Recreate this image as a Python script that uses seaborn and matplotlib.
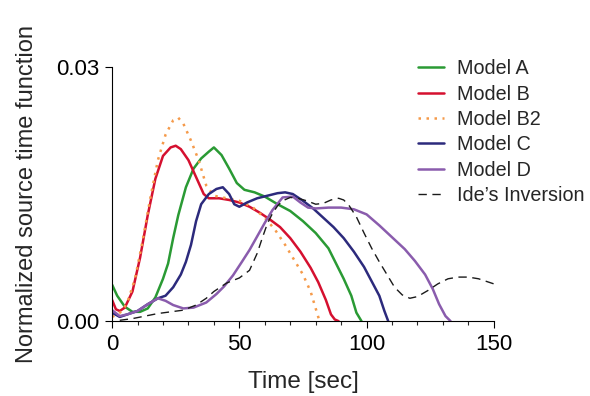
import pandas as pd
import matplotlib.pyplot as plt
import matplotlib.ticker as mticker
import seaborn as sns

# values (time in sec, normalized STF)
a_t = [0, 2, 5, 8, 11, 14, 17, 20, 22, 24, 26, 29, 32, 35, 38, 40, 43, 46, 49, 52,
       56, 60, 65, 70, 75, 80, 85, 88, 91, 94, 96, 98]
a_v = [.0043, .0030, .0017, .0011, .0011, .0015, .0028, .0050, .0068, .0098, .0125,
       .0158, .0180, .0192, .0200, .0205, .0196, .0180, .0163, .0155, .0152, .0147,
       .0138, .0130, .0118, .0104, .0086, .0068, .0050, .0030, .0010, .0000]

b_t = [0, 1.5, 3, 5, 8, 11, 14, 17, 20, 23, 25, 27, 30, 33, 36, 38, 42, 46, 50, 54,
       58, 62, 66, 70, 74, 78, 81, 84, 86, 87.5, 89]
b_v = [.0025, .0014, .0012, .0016, .0035, .0075, .0125, .0168, .0195, .0205, .0207,
       .0203, .0190, .0170, .0150, .0145, .0145, .0143, .0140, .0135, .0128, .0120,
       .0111, .0098, .0082, .0063, .0046, .0025, .0008, .0002, .0000]

b2_t = [0, 2, 4, 6, 9, 12, 15, 18, 21, 24, 26, 28, 31, 34, 37, 40, 45, 50, 55, 60,
        64, 68, 72, 75, 78, 80, 81.5]
b2_v = [.0005, .0008, .0012, .0022, .0050, .0095, .0145, .0190, .0220, .0237, .0240,
        .0233, .0213, .0190, .0160, .0148, .0145, .0142, .0135, .0122, .0108, .0090,
        .0070, .0055, .0035, .0015, .0000]

c_t = [0, 3, 6, 10, 14, 18, 21, 24, 27, 29, 31, 33, 35, 38, 41, 43.5, 46, 48, 50, 53,
       57, 61, 65, 68, 71, 75, 79, 83, 87, 91, 95, 99, 102, 105, 107, 108.5]
c_v = [.0010, .0005, .0008, .0012, .0020, .0027, .0030, .0040, .0055, .0070, .0090,
       .0118, .0138, .0150, .0156, .0158, .0150, .0138, .0135, .0140, .0145, .0148,
       .0151, .0152, .0150, .0142, .0133, .0122, .0111, .0098, .0082, .0064, .0047,
       .0030, .0012, .0000]

d_t = [0, 3, 6, 10, 14, 18, 21, 24, 28, 32, 37, 41, 44, 47.5, 51, 54, 57, 60, 63, 67,
       71, 74, 77, 80, 85, 90, 95, 100, 105, 110, 115, 119, 123, 126, 128.5, 131, 133]
d_v = [.0013, .0006, .0008, .0012, .0020, .0027, .0024, .0019, .0015, .0016, .0022,
       .0032, .0041, .0054, .0070, .0084, .0100, .0116, .0131, .0146, .0147, .0140,
       .0134, .0133, .0134, .0134, .0132, .0126, .0113, .0099, .0085, .0071, .0055,
       .0038, .0020, .0006, .0000]

ide_t = [3, 8, 13, 18, 23, 28, 33, 37, 40, 45, 50, 54, 57, 59, 61, 63, 65, 67, 70, 73,
         76.5, 80, 83, 86, 89, 91, 93, 96, 99, 102, 105, 108, 111, 114, 117, 120, 124,
         128, 132, 136, 140, 144, 147, 150]
ide_v = [.0001, .0003, .0006, .0009, .0011, .0013, .0019, .0027, .0035, .0045, .0051,
         .0060, .0080, .0098, .0115, .0127, .0136, .0142, .0146, .0145, .0142, .0138,
         .0139, .0143, .0145, .0143, .0137, .0123, .0104, .0086, .0070, .0055, .0040,
         .0031, .0027, .0029, .0036, .0044, .0050, .0052, .0052, .0050, .0047, .0044]

series = [
    ("Model A", a_t, a_v, "#2a9a34", "-", 1.8),
    ("Model B", b_t, b_v, "#d5102f", "-", 1.8),
    ("Model B2", b2_t, b2_v, "#f59a4a", (0, (1, 2.2)), 1.8),
    ("Model C", c_t, c_v, "#2c2a7c", "-", 1.8),
    ("Model D", d_t, d_v, "#8a5cad", "-", 1.8),
    ("Ide\u2019s Inversion", ide_t, ide_v, "#1a1a1a", (0, (6, 4)), 1.0),
]

sns.set_theme(style="ticks")
plt.rcParams['font.family'] = ['Liberation Sans', 'DejaVu Sans']

fig = plt.figure(figsize=(5.9, 3.96), dpi=100)
ax = fig.add_axes([0.19, 0.189, 0.647, 0.642])

for name, t, v, col, ls, lw in series:
    df = pd.DataFrame({"t": t, "v": v})
    sns.lineplot(data=df, x="t", y="v", ax=ax, color=col, linestyle=ls,
                 linewidth=lw, label=name)

ax.set_xlim(0, 150)
ax.set_ylim(0, 0.03)
ax.set_xticks([0, 50, 100, 150])
ax.xaxis.set_minor_locator(mticker.MultipleLocator(10))
ax.set_yticks([0, 0.03])
ax.set_yticklabels(["0.00", "0.03"])
ax.tick_params(axis='both', which='major', labelsize=16, length=5, width=0.8,
               colors='black', pad=4)
ax.tick_params(axis='x', which='minor', length=3, width=0.8)
sns.despine(ax=ax)
for s in ("left", "bottom"):
    ax.spines[s].set_linewidth(0.8)
    ax.spines[s].set_color("black")

ax.set_xlabel("Time [sec]", fontsize=17.5, labelpad=12)
ax.set_ylabel("Normalized source time function", fontsize=17, labelpad=13)

ax.legend(loc="upper left", bbox_to_anchor=(0.801, 1.03), frameon=False,
          fontsize=14.2, handlelength=1.3, handletextpad=0.7, labelspacing=0.32,
          borderaxespad=0, borderpad=0)

fig.savefig("out.png", dpi=100)
